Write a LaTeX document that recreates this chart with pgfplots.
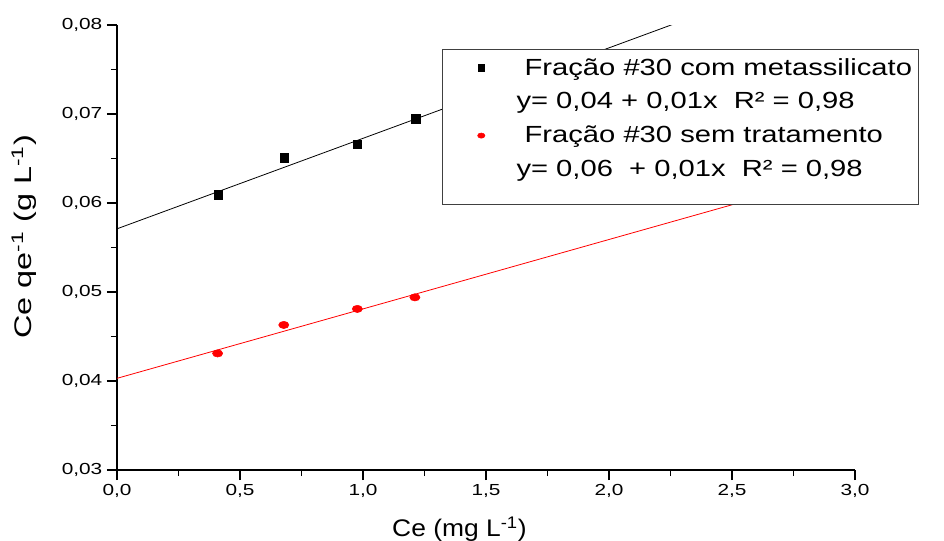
\documentclass[border=0pt]{standalone}
\usepackage{fontspec}
\usepackage{pgfplots}
\pgfplotsset{compat=1.18}
\setmainfont{Liberation Sans}
\newfontfamily\tickfont{Liberation Sans}[FakeStretch=1.3]
\newfontfamily\legfont{Liberation Sans}[FakeStretch=1.25]
\newfontfamily\labfont{Liberation Sans}[FakeStretch=1.1]
\newfontfamily\ylabfont{Liberation Sans}[FakeStretch=1.35]

\pgfplotsset{wide mark legend/.style={legend image code/.code={%
  \path (0pt,0pt) (50pt,0pt);
  \draw[##1] plot coordinates {(25.75pt,0pt)};}}}

\begin{document}
\begin{tikzpicture}
\begin{axis}[
  at={(0,0)}, anchor=south west,
  scale only axis, width=553.5pt, height=333.75pt,
  xmin=0, xmax=3, ymin=0.03, ymax=0.08,
  axis lines=left, axis line style={-, line width=1.3pt},
  xtick={0,0.5,...,3}, ytick={0.03,0.04,...,0.08},
  minor x tick num=1, minor y tick num=1,
  scaled y ticks=false,
  tick align=outside, tick style={black, line width=1.3pt},
  major tick length=7.5pt, minor tick length=4.5pt,
  /pgf/number format/assume math mode=true,
  /pgf/number format/use comma,
  xticklabel style={/pgf/number format/fixed, /pgf/number format/fixed zerofill, /pgf/number format/precision=1},
  yticklabel style={/pgf/number format/fixed, /pgf/number format/fixed zerofill, /pgf/number format/precision=2},
  tick label style={font=\tickfont\fontsize{12}{14}\selectfont},
  xlabel={Ce (mg L\textsuperscript{-1})},
  ylabel={Ce qe\textsuperscript{-1} (g L\textsuperscript{-1})},
  xlabel style={font=\labfont\fontsize{18}{20}\selectfont,
    at={(axis description cs:0.464,-0.150)}, anchor=base},
  ylabel style={font=\ylabfont\fontsize{18}{20}\selectfont,
    at={(axis description cs:-0.126,0.524)}, anchor=center},
  legend style={at={(axis description cs:0.4404,0.946)}, anchor=north west,
    draw=black!75, line width=1pt, fill=white, inner ysep=4.5pt,
    font=\legfont\fontsize{17.5}{21}\selectfont, row sep=7.5pt},
  legend cell align=left,
  legend image post style={line width=0.4pt, mark size=2.3pt},
]
% Fração #30 com metassilicato
\addplot[only marks, mark=square*, mark size=3.3pt, black, wide mark legend] coordinates {
  (0.412,0.0609) (0.680,0.0651) (0.977,0.0666) (1.213,0.0695)};
\addlegendentry{\ Fração \#30 com metassilicato\hspace{12em}}
\addlegendimage{empty legend}
\addlegendentry{y= 0,04 + 0,01x\ \ R² = 0,98}
% Fração #30 sem tratamento
\addplot[only marks, mark=*, mark size=3.2pt, red, mark options={xscale=1.2, yscale=0.85}, wide mark legend] coordinates {
  (0.409,0.0431) (0.678,0.0463) (0.977,0.0481) (1.211,0.0494)};
\addlegendentry{\ Fração \#30 sem tratamento}
\addlegendimage{empty legend}
\addlegendentry{y= 0,06\ \ + 0,01x\ \ R² = 0,98}
\addlegendimage{empty legend}
\addlegendentry[font=\fontsize{1}{1}\selectfont]{}
% linear fits
\addplot[black, line width=0.6pt, forget plot] coordinates {(0,0.0571) (3,0.0876)};
\addplot[red, line width=0.6pt, forget plot] coordinates {(0,0.0403) (3,0.0637)};
\end{axis}
\pgfresetboundingbox
\useasboundingbox (-87.75pt,-52.5pt) rectangle (620.25pt,352.5pt);
\end{tikzpicture}
\end{document}
